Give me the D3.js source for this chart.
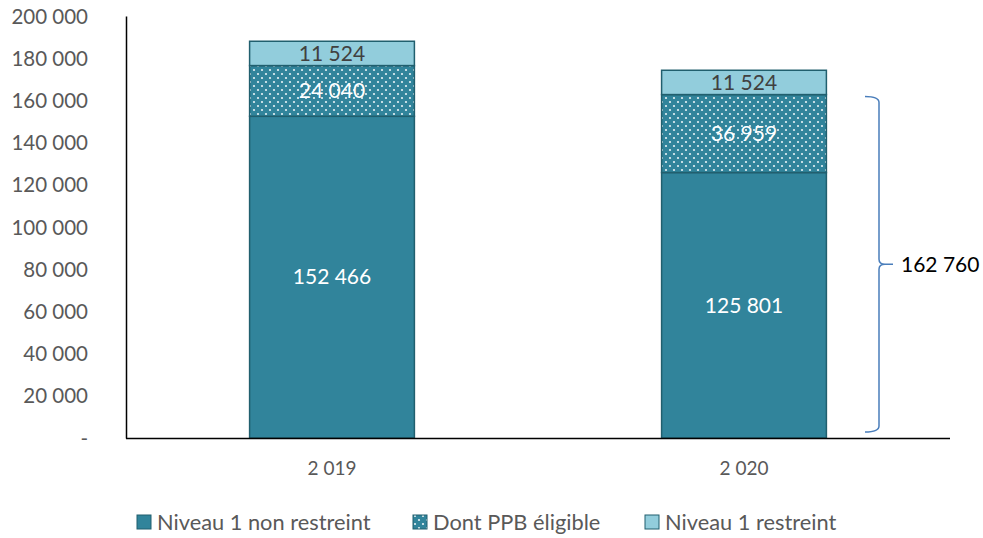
<!DOCTYPE html>
<head>
<title>Niveau 1</title>
<meta charset="utf-8">
<style>
body { margin: 0; background: #fff; }
text { font-family: Lato, "Noto Sans", sans-serif; }
.axis text { fill: #595959; }
</style>
</head>
<body>
<svg width="983" height="538"></svg>
<script src="https://cdnjs.cloudflare.com/ajax/libs/d3/7.8.5/d3.min.js"></script>
<script>
/* global d3 */
const years = ["2 019", "2 020"];
const nonRestreint = [152466, 125801];
const ppbEligible = [24040, 36959];
const restreint = [11524, 11524];
const yTicks = [0, 20000, 40000, 60000, 80000, 100000, 120000, 140000, 160000, 180000, 200000];
const braceLabel = "162 760";
const legendLabels = ["Niveau 1 non restreint", "Dont PPB éligible", "Niveau 1 restreint"];

const svg = d3.select("svg");
const margin = {top: 16, left: 126, right: 33, bottom: 100};
const W = 983, H = 538;

const x = d3.scaleBand().domain(years).range([margin.left, W - margin.right]).paddingInner(0.6).paddingOuter(0.3);
const y = d3.scaleLinear().domain([0, 200000]).range([H - margin.bottom, margin.top]);

const fmt = v => v === 0 ? "-" : d3.format(",")(v).replace(/,/g, " ");

const defs = svg.append("defs");
const pat = defs.append("pattern").attr("id", "dots").attr("patternUnits", "userSpaceOnUse")
  .attr("width", 8).attr("height", 8);
pat.append("rect").attr("width", 8).attr("height", 8).attr("fill", "#31849b");
pat.append("circle").attr("cx", 2).attr("cy", 2).attr("r", 1.1).attr("fill", "#e6f2f5");
pat.append("circle").attr("cx", 6).attr("cy", 6).attr("r", 1.1).attr("fill", "#e6f2f5");

// y axis
const yAxis = svg.append("g").attr("class", "axis")
  .attr("transform", `translate(${margin.left},0)`)
  .call(d3.axisLeft(y).tickValues(yTicks).tickFormat(fmt).tickSize(0).tickPadding(38));
yAxis.select(".domain").attr("stroke", "#000").attr("stroke-width", 1.5);
yAxis.selectAll("text").attr("dy", "0.35em").attr("font-size", 20.5);

// stacked series
const series = [
  {name: legendLabels[0], values: nonRestreint, fill: "#31849b", text: "#fff"},
  {name: legendLabels[1], values: ppbEligible, fill: "url(#dots)", text: "#fff"},
  {name: legendLabels[2], values: restreint, fill: "#92cddc", text: "#404040"}
];
const bw = x.bandwidth();
years.forEach((yr, i) => {
  let base = 0;
  series.forEach(s => {
    const v = s.values[i];
    const y0 = y(base), y1 = y(base + v);
    svg.append("rect").attr("x", x(yr)).attr("y", y1).attr("width", bw).attr("height", y0 - y1)
      .attr("fill", s.fill).attr("stroke", "#215f6e").attr("stroke-width", 1.5);
    svg.append("text").attr("x", x(yr) + bw / 2).attr("y", (y0 + y1) / 2).attr("dy", "0.35em")
      .attr("text-anchor", "middle").attr("font-size", 21).attr("fill", s.text).text(fmt(v));
    base += v;
  });
});

// x axis
const xAxis = svg.append("g").attr("class", "axis")
  .attr("transform", `translate(0,${y(0)})`)
  .call(d3.axisBottom(x).tickSize(0).tickPadding(24).tickSizeOuter(0));
xAxis.select(".domain").attr("d", `M${margin.left},0.5H${W - margin.right}`).attr("stroke", "#000").attr("stroke-width", 1.5);
xAxis.selectAll("text").attr("font-size", 19);

// brace
const bTop = y(nonRestreint[1] + ppbEligible[1]) + 2, bBot = y(0) - 6, bx = 879, mid = (bTop + bBot) / 2;
svg.append("path")
  .attr("d", `M${bx - 14},${bTop} Q${bx},${bTop} ${bx},${bTop + 6} L${bx},${mid - 5} Q${bx},${mid} ${bx + 6},${mid} L${bx + 14},${mid} M${bx + 6},${mid} Q${bx},${mid} ${bx},${mid + 5} L${bx},${bBot - 6} Q${bx},${bBot} ${bx - 14},${bBot}`)
  .attr("fill", "none").attr("stroke", "#4a7ebb").attr("stroke-width", 1.5);
svg.append("text").attr("x", bx + 22).attr("y", mid).attr("dy", "0.35em")
  .attr("font-size", 21).attr("fill", "#000").text(braceLabel);

// legend
const lx = [137, 413, 645];
series.forEach((s, i) => {
  const g = svg.append("g").attr("transform", `translate(${lx[i]},522)`);
  g.append("rect").attr("x", 0).attr("y", -7).attr("width", 14).attr("height", 14)
    .attr("fill", s.fill).attr("stroke", "#215f6e").attr("stroke-width", 1);
  g.append("text").attr("x", 20).attr("y", 0).attr("dy", "0.35em").attr("font-size", 21.8)
    .attr("fill", "#595959").text(s.name);
});
</script>
</body>
